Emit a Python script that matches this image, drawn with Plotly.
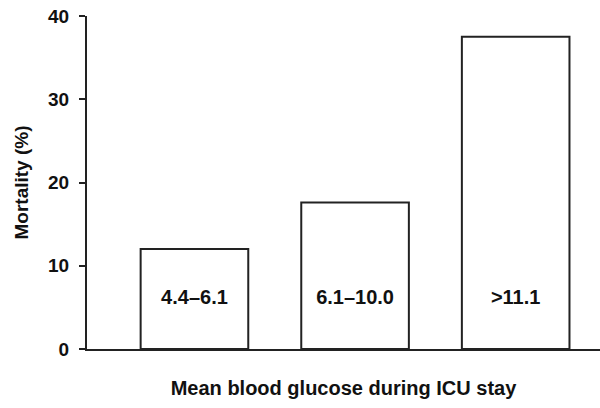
import plotly.graph_objects as go

categories = ["4.4–6.1", "6.1–10.0", ">11.1"]
mortality = [12.0, 17.6, 37.5]
label_level = [6.0, 6.0, 6.0]
y_ticks = [0, 10, 20, 30, 40]

FONT = "Arial, 'Liberation Sans', Helvetica, sans-serif"
INK = "#222222"

fig = go.Figure()
fig.add_trace(go.Bar(
    x=categories, y=mortality, width=0.67,
    marker=dict(color="white", line=dict(color=INK, width=2)),
    hoverinfo="x+y", showlegend=False,
))
fig.add_trace(go.Scatter(
    x=categories, y=label_level, mode="text", text=categories,
    textfont=dict(family=FONT, size=20, color="#111111", weight="bold"),
    hoverinfo="skip", showlegend=False,
))

fig.update_layout(
    width=600, height=408,
    margin=dict(l=87, r=0, t=16, b=58.5),
    paper_bgcolor="white", plot_bgcolor="white",
    font=dict(family=FONT, color="#111111"),
    xaxis=dict(
        range=[-0.669, 2.525], showticklabels=False, ticks="",
        showline=True, linecolor=INK, linewidth=2, showgrid=False, zeroline=False,
        title=dict(text="Mean blood glucose during ICU stay",
                   font=dict(family=FONT, size=20, weight="bold"), standoff=31),
        automargin=False,
    ),
    yaxis=dict(
        range=[0, 40], tickvals=y_ticks, ticks="outside", ticklen=6, tickwidth=2,
        tickcolor=INK, showline=True, linecolor=INK, linewidth=2, showgrid=False,
        zeroline=False, ticklabelstandoff=6,
        tickfont=dict(family=FONT, size=19, weight="bold"),
        title=dict(text="Mortality (%)", font=dict(family=FONT, size=19, weight="bold"),
                   standoff=14),
        automargin=False,
    ),
)

fig.write_html("out.html", config={"displayModeBar": False},
               post_script="document.body.style.margin='0';")
